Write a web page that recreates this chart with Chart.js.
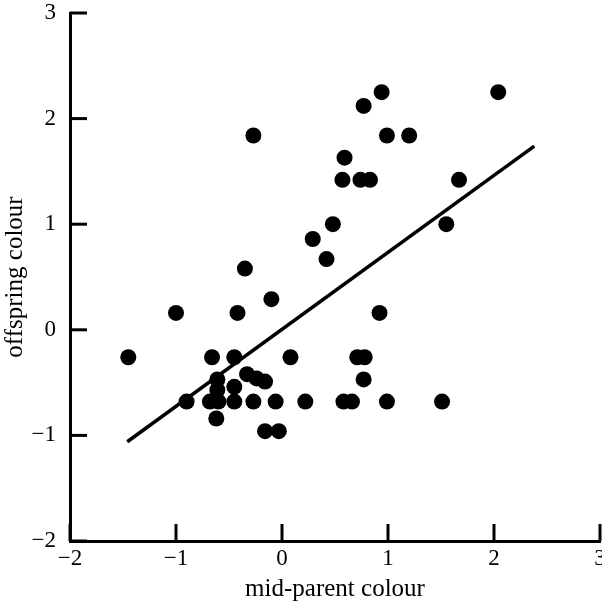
<!DOCTYPE html>
<html>
<head>
<meta charset="utf-8">
<script src="https://cdn.jsdelivr.net/npm/chart.js@4"></script>
<style>
  html, body { margin: 0; padding: 0; background: #fff; }
  #wrap { width: 602px; height: 604px; }
</style>
</head>
<body>
<div id="wrap"><canvas id="chart" width="602" height="604"></canvas></div>
<script>
// mid-parent colour vs offspring colour
const midParent = [-1.45, -1.00, -0.90, -0.27, -0.35, -0.42, -0.10, -0.66, -0.45, 0.08,
  -0.61, -0.61, -0.68, -0.60, -0.62, -0.33, -0.24, -0.16, -0.45, -0.45,
  -0.27, -0.06, 0.22, -0.16, -0.03, 0.29, 0.42, 0.48, 0.57, 0.59,
  0.74, 0.83, 0.77, 0.94, 0.99, 1.20, 2.04, 1.67, 1.55, 0.92,
  0.71, 0.78, 0.77, 0.58, 0.66, 0.99, 1.51];
const offspring = [-0.26, 0.16, -0.68, 1.84, 0.58, 0.16, 0.29, -0.26, -0.26, -0.26,
  -0.47, -0.57, -0.68, -0.68, -0.84, -0.42, -0.46, -0.49, -0.54, -0.68,
  -0.68, -0.68, -0.68, -0.96, -0.96, 0.86, 0.67, 1.00, 1.42, 1.63,
  1.42, 1.42, 2.12, 2.25, 1.84, 1.84, 2.25, 1.42, 1.00, 0.16,
  -0.26, -0.26, -0.47, -0.68, -0.68, -0.68, -0.68];

// regression line end points
const fitX = [-1.46, 2.38];
const fitY = [-1.06, 1.74];

const tickValues = [-2, -1, 0, 1, 2, 3];

const serif = "'Liberation Serif', 'DejaVu Serif', serif";

// inward tick marks, drawn from the scales
const innerTicks = {
  id: 'innerTicks',
  afterDraw(chart) {
    const ctx = chart.ctx;
    const xs = chart.scales.x, ys = chart.scales.y;
    const len = 17;
    ctx.save();
    ctx.strokeStyle = '#000';
    ctx.lineWidth = 3;
    tickValues.forEach(v => {
      const px = xs.getPixelForValue(v);
      ctx.beginPath();
      ctx.moveTo(px, ys.bottom);
      ctx.lineTo(px, ys.bottom - len);
      ctx.stroke();
      const py = ys.getPixelForValue(v);
      ctx.beginPath();
      ctx.moveTo(xs.left, py);
      ctx.lineTo(xs.left + len, py);
      ctx.stroke();
    });
    ctx.restore();
  }
};

const fmt = v => (v < 0 ? '\u2212' + Math.abs(v) : String(v));

new Chart(document.getElementById('chart'), {
  type: 'scatter',
  data: {
    datasets: [
      {
        data: midParent.map((x, i) => ({ x: x, y: offspring[i] })),
        backgroundColor: '#000',
        borderColor: '#000',
        pointRadius: 8,
        pointHoverRadius: 8,
        borderWidth: 0
      },
      {
        data: fitX.map((x, i) => ({ x: x, y: fitY[i] })),
        showLine: true,
        borderColor: '#000',
        borderWidth: 3.5,
        pointRadius: 0,
        fill: false
      }
    ]
  },
  options: {
    responsive: false,
    animation: false,
    events: [],
    layout: { autoPadding: false, padding: { top: 13, right: 2, left: 0, bottom: 0 } },
    plugins: { legend: { display: false }, tooltip: { enabled: false } },
    scales: {
      x: {
        type: 'linear',
        min: -2, max: 3,
        afterBuildTicks: s => { s.ticks = tickValues.map(v => ({ value: v })); },
        afterFit: s => { s.height = 63; s.paddingLeft = 0; s.paddingRight = 0; },
        grid: { display: false, drawTicks: false },
        border: { display: true, color: '#000', width: 3 },
        ticks: {
          color: '#000', padding: 4, maxRotation: 0,
          font: { family: serif, size: 23 },
          callback: fmt
        },
        title: {
          display: true, text: 'mid-parent colour', color: '#000',
          font: { family: serif, size: 25 }, padding: 0
        }
      },
      y: {
        type: 'linear',
        min: -2, max: 3,
        afterBuildTicks: s => { s.ticks = tickValues.map(v => ({ value: v })); },
        afterFit: s => { s.width = 70; s.paddingTop = 0; s.paddingBottom = 0; },
        grid: { display: false, drawTicks: false },
        border: { display: true, color: '#000', width: 3 },
        ticks: {
          color: '#000', padding: 14,
          font: { family: serif, size: 23 },
          callback: fmt
        },
        title: {
          display: true, text: 'offspring colour', color: '#000',
          font: { family: serif, size: 25 }, padding: 0
        }
      }
    }
  },
  plugins: [innerTicks]
});
</script>
</body>
</html>
